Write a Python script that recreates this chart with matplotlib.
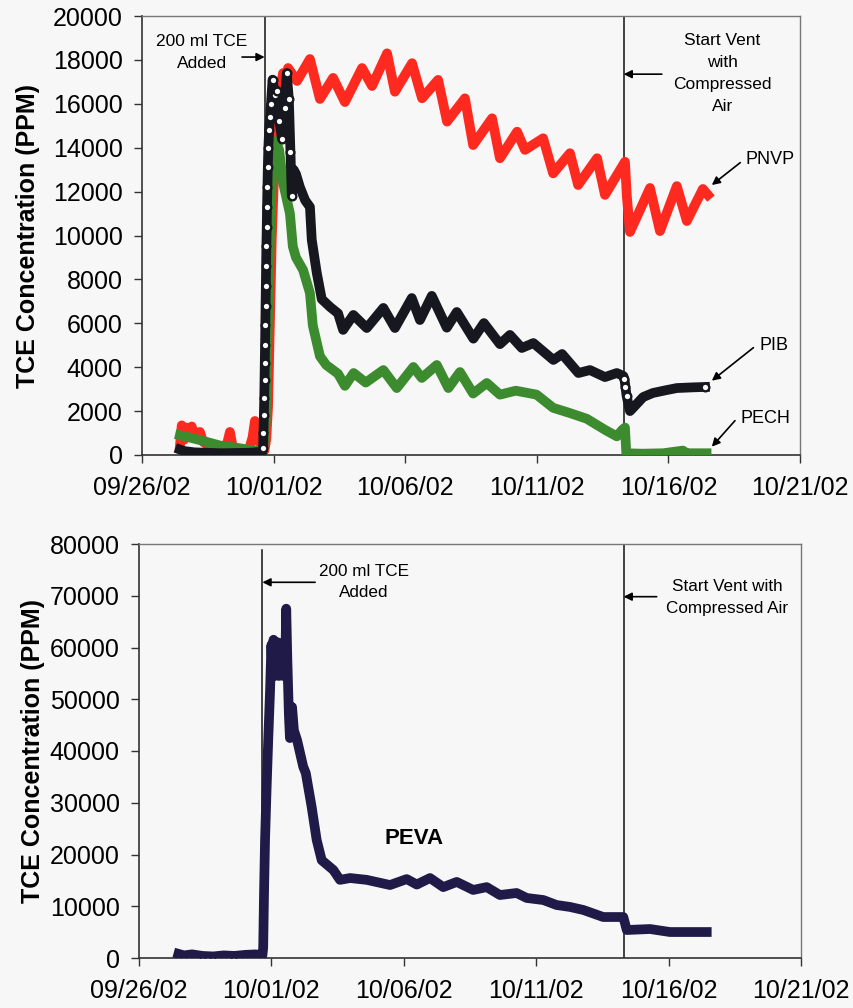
import datetime as dt
import numpy as np
import matplotlib
matplotlib.use("Agg")
import matplotlib.pyplot as plt
import matplotlib.dates as mdates

plt.rcParams["font.family"] = ["Liberation Sans", "DejaVu Sans"]

T0 = dt.datetime(2002, 9, 26)
TCE_ADDED = 4.66    # days after 09/26/02
VENT_START = 18.3

# ---- top panel (days after 09/26/02, ppm) ----
pnvp_day = [1.44, 1.51, 1.60, 1.70, 1.80, 1.89, 2.00, 2.10, 2.20, 2.32,
            2.50, 2.70, 2.90, 3.10, 3.25, 3.34, 3.45, 3.65, 3.85, 4.05,
            4.20, 4.29, 4.40, 4.55, 4.65, 4.72, 4.79, 4.86, 4.93, 5.02,
            5.10, 5.17, 5.28, 5.36, 5.45, 5.55, 5.89, 6.38, 6.76, 7.26,
            7.71, 8.36, 8.74, 9.31, 9.61, 10.26, 10.64, 11.25, 11.59, 12.27,
            12.58, 13.30, 13.60, 14.25, 14.55, 15.24, 15.62, 16.26, 16.57, 17.29,
            17.59, 18.35, 18.42, 18.54, 19.30, 19.68, 20.32, 20.70, 21.31, 21.50]
pnvp_ppm = [400, 1350, 700, 1250, 900, 1300, 800, 1000, 1050, 600,
            450, 350, 250, 300, 600, 1050, 350, 150, 100, 200,
            800, 1550, 900, 300, 200, 700, 2200, 6000, 9800, 12850,
            14500, 15850, 16900, 17400, 17100, 17630, 17040, 18040, 16220, 17180,
            16080, 17630, 16810, 18300, 16550, 17850, 16250, 17090, 15190, 16250,
            14120, 15340, 13520, 14730, 13900, 14430, 12830, 13750, 12300, 13520,
            11850, 13360, 11800, 10160, 12165, 10200, 12250, 10660, 12120, 11850]

pib_day = [1.44, 1.60, 2.00, 2.50, 3.00, 3.50, 4.00, 4.30, 4.58,
           4.60, 4.615, 4.63, 4.645, 4.655, 4.665, 4.675, 4.685, 4.695, 4.705,
           4.715, 4.725, 4.74, 4.75, 4.765, 4.78, 4.80, 4.83, 4.87,
           4.90, 4.96, 5.05, 5.12, 5.22, 5.32, 5.42, 5.50, 5.58, 5.64,
           5.69, 5.76, 5.85, 6.00, 6.20, 6.38, 6.45, 6.64, 6.83, 7.14, 7.45, 7.64,
           8.03, 8.54, 9.17, 9.61, 10.25, 10.56, 11.01, 11.58, 11.96, 12.59,
           12.99, 13.60, 13.98, 14.43, 14.87, 15.63, 15.96, 16.58, 17.02, 17.59,
           18.04, 18.29,
           18.33, 18.37, 18.41, 18.54, 18.70, 19.04, 19.41, 19.90, 20.32, 20.90, 21.39]
pib_ppm = [250, 180, 120, 100, 80, 90, 100, 120, 150,
           300, 1000, 1800, 2600, 3400, 4200, 5000, 5900, 6800, 7700,
           8600, 9500, 10400, 11300, 12200, 13100, 14000, 14800, 15400,
           16000, 17100, 16400, 16600, 15200, 14400, 15800, 17400, 16200, 13800,
           11800, 13000, 12800, 12200, 11600, 11300, 9800, 8300, 7100, 6750, 6450, 5700,
           6380, 5785, 6700, 5785, 7150, 6150, 7250, 5800, 6515, 5300,
           6010, 5050, 5470, 4875, 5100, 4330, 4600, 3735, 3870, 3550,
           3735, 3600,
           3450, 3100, 2700, 2000, 2200, 2640, 2825, 2950, 3050, 3080, 3100]

pech_day = [1.44, 1.80, 2.20, 2.60, 3.00, 3.50, 4.00, 4.30, 4.60, 4.70,
            4.78, 4.86, 4.95, 5.09, 5.21, 5.36, 5.62, 5.73, 5.85, 6.12,
            6.38, 6.49, 6.76, 7.00, 7.45, 7.71, 8.04, 8.50, 9.17, 9.68,
            10.31, 10.63, 11.20, 11.64, 12.08, 12.58, 13.10, 13.60, 14.20, 14.99,
            15.62, 16.26, 16.90, 17.60, 18.04, 18.25, 18.35, 18.40, 19.00, 19.80,
            20.55, 20.70, 21.45]
pech_ppm = [900, 800, 680, 550, 420, 350, 250, 200, 150, 1500,
            6000, 10000, 13000, 14300, 13900, 12400, 11000, 9500, 9000, 8430,
            7380, 5900, 4500, 4100, 3700, 3150, 3735, 3300, 3870, 3050,
            4010, 3510, 4100, 3050, 3780, 2800, 3280, 2750, 2930, 2750,
            2150, 1910, 1650, 1140, 850, 1150, 1250, 80, 60, 80,
            200, 80, 80]

# ---- bottom panel ----
peva_day = [1.49, 1.70, 2.00, 2.40, 2.80, 3.20, 3.60, 4.00, 4.40, 4.66,
            4.69, 4.72, 4.76, 4.82, 4.88, 4.95, 5.00, 5.04, 5.08, 5.12,
            5.16, 5.20, 5.24, 5.28, 5.32, 5.36, 5.40, 5.44, 5.48, 5.52,
            5.56, 5.60, 5.66, 5.70, 5.78, 5.85, 5.97, 6.20, 6.30, 6.52,
            6.71, 6.90, 7.34, 7.59, 7.97, 8.60, 9.48, 10.11, 10.49, 10.99,
            11.49, 12.00, 12.62, 13.13, 13.63, 14.26, 14.64, 15.27, 15.77, 16.28,
            16.78, 17.53, 18.29, 18.42, 19.30, 20.05, 20.68, 21.44]
peva_ppm = [800, 500, 700, 400, 300, 500, 400, 600, 700, 500,
            2000, 12000, 22800, 33000, 42100, 51800, 60500, 55000, 61500, 54500,
            61000, 55500, 61000, 54500, 60500, 55000, 60000, 54500, 59500, 56000,
            67500, 58000, 47000, 42500, 48500, 44000, 42100, 37000, 35700, 29200,
            22800, 18900, 17000, 15100, 15450, 15100, 14100, 15250, 14200, 15450,
            13700, 14700, 13150, 13700, 12170, 12560, 11600, 11200, 10240, 9860,
            9280, 7920, 7920, 5410, 5600, 5020, 5020, 5020]

RED, GREEN, BLACK, NAVY = "#ff2a1f", "#3d8b2f", "#17171f", "#1f1a48"
BG = "#f7f7f7"
t0 = mdates.date2num(T0)
def D(d): return t0 + np.asarray(d, dtype=float)

fig = plt.figure(figsize=(8.54, 10.08), dpi=100, facecolor=BG)
ax1 = fig.add_axes([142/854, 1-455/1008, 658/854, 439/1008], facecolor=BG)
ax2 = fig.add_axes([139/854, 1-958/1008, 662/854, 414/1008], facecolor=BG)

def style(ax, ymax, ystep, vtop):
    ax.set_xlim(t0, t0 + 25)
    ax.set_ylim(0, ymax)
    ax.set_xticks(D(range(0, 26, 5)))
    ax.xaxis.set_major_formatter(mdates.DateFormatter("%m/%d/%y"))
    ax.set_yticks(np.arange(0, ymax + 1, ystep))
    ax.tick_params(labelsize=18, length=6, width=1, direction="out", color="#333333")
    ax.tick_params(axis="x", pad=9)
    ax.tick_params(axis="y", pad=8)
    for s in ["left", "bottom"]:
        ax.spines[s].set_color("#333333"); ax.spines[s].set_linewidth(1.2)
    for s in ["top", "right"]:
        ax.spines[s].set_color("#777777"); ax.spines[s].set_linewidth(1.0)
    ax.set_ylabel("TCE Concentration (PPM)", fontsize=18, fontweight="bold")
    ax.axvline(t0 + TCE_ADDED, ymax=vtop, color="#111111", lw=1.1, zorder=1)
    ax.axvline(t0 + VENT_START, color="#111111", lw=1.1, zorder=1)

style(ax1, 20000, 2000, 1.0)
style(ax2, 80000, 10000, 0.985)

# top panel series
ax1.plot(D(pnvp_day), pnvp_ppm, color=RED, lw=7, solid_joinstyle="round", zorder=2)
ax1.plot(D(pech_day), pech_ppm, color=GREEN, lw=7, solid_joinstyle="round", zorder=3)
ax1.plot(D(pib_day), pib_ppm, color=BLACK, lw=7, solid_joinstyle="round", zorder=4)
pd_ = np.asarray(pib_day)
ring = ((pd_ > 4.59) & (pd_ < 5.75)) | ((pd_ > 18.3) & (pd_ < 18.45)) | (pd_ == pd_.max())
ax1.plot(D(pd_[ring]), np.asarray(pib_ppm)[ring], "o", ms=5.5, mfc="white",
         mec=BLACK, mew=1.7, zorder=5)

arrow = dict(arrowstyle="-|>", color="black", lw=1.2, mutation_scale=12, shrinkA=0, shrinkB=0)
ax1.text(t0 + 2.28, 18340, "200 ml TCE\nAdded", ha="center", va="center", fontsize=12.5, linespacing=1.6)
ax1.annotate("", xy=(t0 + TCE_ADDED, 18130), xytext=(t0 + 3.80, 18130), arrowprops=arrow)
ax1.text(t0 + 22.06, 17380, "Start Vent\nwith\nCompressed\nAir", ha="center", va="center",
         fontsize=12.5, linespacing=1.6)
ax1.annotate("", xy=(t0 + VENT_START, 17350), xytext=(t0 + 19.75, 17350), arrowprops=arrow)
for name, tx, ty, hx, hy in [("PNVP", 23.86, 13440, 21.65, 12300),
                             ("PIB", 24.01, 5010, 21.65, 3385),
                             ("PECH", 23.67, 1685, 21.65, 378)]:
    w = {"PNVP": 1.13, "PIB": 0.78, "PECH": 1.14}[name]
    ax1.text(t0 + tx, ty, name, ha="center", va="center", fontsize=13)
    ax1.annotate("", xy=(t0 + hx, hy), xytext=(t0 + tx - w, ty - 120), arrowprops=arrow)

# bottom panel series
ax2.plot(D(peva_day), peva_ppm, color=NAVY, lw=7, solid_joinstyle="round",
         marker="x", ms=4, mew=1.2, zorder=3)
ax2.text(t0 + 8.50, 72660, "200 ml TCE\nAdded", ha="center", va="center", fontsize=12.3, linespacing=1.55)
ax2.annotate("", xy=(t0 + TCE_ADDED, 72600), xytext=(t0 + 6.65, 72600), arrowprops=arrow)
ax2.text(t0 + 22.22, 69660, "Start Vent with\nCompressed Air", ha="center", va="center",
         fontsize=12.3, linespacing=1.55)
ax2.annotate("", xy=(t0 + VENT_START, 69820), xytext=(t0 + 19.55, 69820), arrowprops=arrow)
ax2.text(t0 + 10.39, 23000, "PEVA", ha="center", va="center", fontsize=16, fontweight="bold")

ax1.yaxis.set_label_coords(-0.155, 0.5)
ax2.yaxis.set_label_coords(-0.142, 0.5)

fig.savefig("out.png", dpi=100, facecolor=BG)
